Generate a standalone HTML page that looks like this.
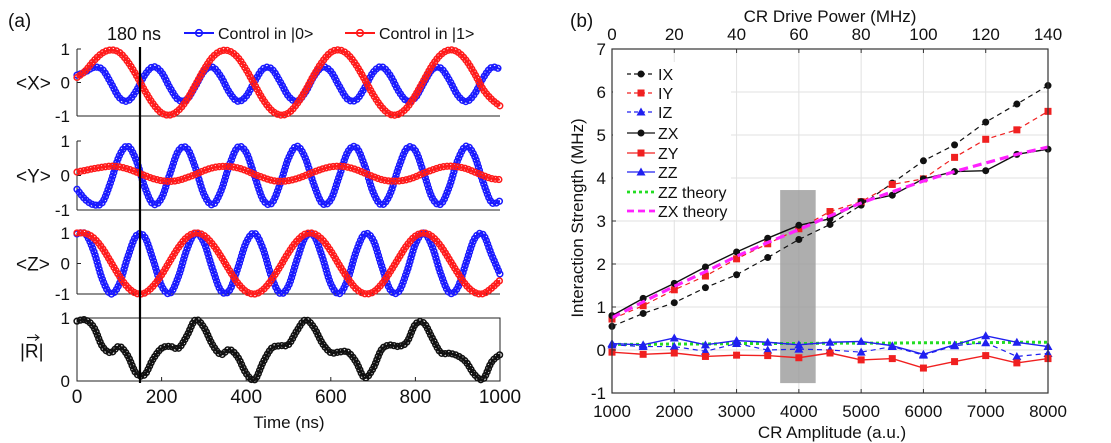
<!DOCTYPE html>
<html><head><meta charset="utf-8"><style>
html,body{margin:0;padding:0;background:#fff;}
svg{display:block;font-family:"Liberation Sans",Arial,sans-serif;}
</style></head><body>
<svg id="fig" width="1111" height="443" viewBox="0 0 1111 443" xmlns="http://www.w3.org/2000/svg"></svg>
<script>
// ---------- Panel (a) data ----------
const times = [0,20,40,60,80,100,120,140,160,180,200,220,240,260,280,300,320,340,360,380,400,420,440,460,480,500,520,540,560,580,600,620,640,660,680,700,720,740,760,780,800,820,840,860,880,900,920,940,960,980,1000];
const xBlue = [0.22,0.32,0.45,0.39,-0.01,-0.45,-0.55,-0.25,0.22,0.47,0.30,-0.16,-0.52,-0.50,-0.11,0.33,0.46,0.18,-0.29,-0.56,-0.41,0.03,0.41,0.41,0.03,-0.41,-0.56,-0.29,0.18,0.46,0.33,-0.11,-0.50,-0.52,-0.16,0.30,0.47,0.22,-0.25,-0.55,-0.45,-0.01,0.39,0.43,0.08,-0.38,-0.57,-0.34,0.13,0.45,0.40];
const xRed = [0.15,0.35,0.65,0.88,0.97,0.90,0.62,0.22,-0.24,-0.64,-0.91,-0.97,-0.83,-0.51,-0.07,0.38,0.75,0.94,0.94,0.75,0.38,-0.07,-0.51,-0.83,-0.97,-0.91,-0.64,-0.24,0.22,0.62,0.90,0.97,0.84,0.52,0.09,-0.36,-0.73,-0.95,-0.95,-0.75,-0.38,0.07,0.51,0.83,0.97,0.91,0.66,0.26,-0.20,-0.50,-0.70];
const yBlue = [-0.40,-0.70,-0.85,-0.78,-0.18,0.57,0.85,0.44,-0.33,-0.83,-0.65,0.06,0.72,0.79,0.22,-0.54,-0.85,-0.46,0.29,0.82,0.67,-0.02,-0.70,-0.81,-0.25,0.50,0.85,0.50,-0.26,-0.81,-0.70,-0.02,0.68,0.82,0.29,-0.48,-0.85,-0.54,0.22,0.79,0.72,0.06,-0.65,-0.83,-0.33,0.44,0.85,0.56,-0.19,-0.78,-0.74];
const yRed = [0.10,0.15,0.20,0.24,0.27,0.25,0.19,0.10,0.00,-0.09,-0.15,-0.17,-0.14,-0.06,0.03,0.14,0.22,0.26,0.26,0.22,0.14,0.03,-0.06,-0.14,-0.17,-0.15,-0.09,0.00,0.10,0.19,0.25,0.27,0.24,0.17,0.07,-0.03,-0.12,-0.16,-0.16,-0.12,-0.04,0.07,0.16,0.24,0.27,0.25,0.20,0.10,0.00,-0.09,-0.12];
const zBlue = [0.97,0.97,0.39,-0.52,-1.0,-0.67,0.21,0.91,0.87,0.12,-0.73,-0.98,-0.42,0.47,0.99,0.69,-0.16,-0.89,-0.89,-0.16,0.69,0.99,0.47,-0.44,-0.98,-0.73,0.12,0.87,0.91,0.21,-0.67,-0.99,-0.52,0.39,0.97,0.77,-0.07,-0.85,-0.93,-0.26,0.63,1.0,0.54,-0.34,-0.96,-0.79,0.03,0.82,0.95,0.29,-0.35];
const zRed = [1.0,0.99,0.83,0.50,0.05,-0.41,-0.78,-0.98,-0.97,-0.74,-0.37,0.09,0.53,0.86,1.0,0.92,0.64,0.24,-0.22,-0.64,-0.92,-1.0,-0.86,-0.53,-0.10,0.36,0.74,0.97,0.98,0.78,0.41,-0.05,-0.48,-0.83,-0.99,-0.94,-0.68,-0.28,0.17,0.60,0.90,1.0,0.88,0.57,0.14,-0.31,-0.71,-0.95,-0.99,-0.81,-0.55];
const rMag = [0.95,0.97,0.85,0.55,0.45,0.55,0.40,0.12,0.10,0.35,0.52,0.55,0.52,0.72,0.97,0.85,0.58,0.42,0.50,0.38,0.12,0.02,0.30,0.52,0.56,0.58,0.80,0.97,0.85,0.60,0.45,0.46,0.46,0.30,0.05,0.20,0.50,0.57,0.55,0.62,0.90,0.92,0.68,0.45,0.44,0.40,0.30,0.10,0.03,0.30,0.42];
const timeTicks = [0,200,400,600,800,1000];

// ---------- Panel (b) data ----------
const amps = [1000,1500,2000,2500,3000,3500,4000,4500,5000,5500,6000,6500,7000,7500,8000];
const IX = [0.55,0.85,1.10,1.45,1.75,2.15,2.57,2.92,3.37,3.88,4.40,4.77,5.30,5.72,6.15];
const IY = [0.72,1.03,1.40,1.72,2.12,2.47,2.82,3.22,3.45,3.85,3.98,4.48,4.90,5.12,5.55];
const IZ = [0.12,0.08,0.08,-0.03,0.15,0.00,0.02,0.00,-0.05,0.08,-0.12,0.10,0.17,-0.15,-0.08];
const ZX = [0.80,1.20,1.55,1.93,2.28,2.60,2.90,3.05,3.45,3.60,3.98,4.15,4.17,4.55,4.67];
const ZY = [-0.05,-0.10,-0.07,-0.15,-0.12,-0.13,-0.18,-0.07,-0.23,-0.20,-0.42,-0.27,-0.13,-0.30,-0.20];
const ZZ = [0.15,0.12,0.28,0.12,0.22,0.18,0.12,0.18,0.20,0.10,-0.10,0.12,0.33,0.18,0.08];
const ZZth = [0.13,0.13,0.14,0.14,0.15,0.15,0.15,0.16,0.16,0.16,0.17,0.17,0.17,0.18,0.18];
const ZXth = [0.75,1.12,1.48,1.82,2.18,2.50,2.80,3.12,3.42,3.68,3.93,4.15,4.35,4.55,4.72];
const ampTicks = [1000,2000,3000,4000,5000,6000,7000,8000];
const powerTicks = [0,20,40,60,80,100,120,140];
const strengthTicks = [-1,0,1,2,3,4,5,6,7];
const shadeRange = [3700,4270,-0.77,3.72];

const NS="http://www.w3.org/2000/svg";
const svg=document.getElementById('fig');
function mk(tag,attrs,parent){const e=document.createElementNS(NS,tag);for(const k in attrs)e.setAttribute(k,attrs[k]);(parent||svg).appendChild(e);return e;}
function txt(s,x,y,size,anchor,parent){const t=mk('text',{x:x,y:y,'font-size':size,'text-anchor':anchor||'start',fill:'#111'},parent);t.textContent=s;return t;}

// ---- left panels ----
const tx = t => 77 + (t/1000)*423;
const panels=[
 {name:'x-panel',label:'<X>',top:49,bot:116,min:-1,max:1,series:[[xBlue,'#1a1aff'],[xRed,'#ff1a1a']]},
 {name:'y-panel',label:'<Y>',top:141,bot:210,min:-1,max:1,series:[[yBlue,'#1a1aff'],[yRed,'#ff1a1a']]},
 {name:'z-panel',label:'<Z>',top:233,bot:294,min:-1,max:1,series:[[zBlue,'#1a1aff'],[zRed,'#ff1a1a']]},
 {name:'r-panel',label:'|R|',top:318,bot:381,min:0,max:1,series:[[rMag,'#111']]}
];
function smooth(pts){let d='M'+pts[0][0]+','+pts[0][1];for(let i=0;i<pts.length-1;i++){const p0=pts[i-1]||pts[i],p1=pts[i],p2=pts[i+1],p3=pts[i+2]||p2;d+=' C'+(p1[0]+(p2[0]-p0[0])/6)+','+(p1[1]+(p2[1]-p0[1])/6)+' '+(p2[0]-(p3[0]-p1[0])/6)+','+(p2[1]-(p3[1]-p1[1])/6)+' '+p2[0]+','+p2[1];}return d;}
panels.forEach(p=>{
  const g=mk('g',{});
  
  
  const ty=v=>p.bot-(v-p.min)/(p.max-p.min)*(p.bot-p.top);
  if(p.name==='r-panel'){mk('rect',{x:77,y:p.top,width:423,height:p.bot-p.top,fill:'none',stroke:'#222','stroke-width':1},g);}
  else{mk('line',{x1:77,y1:p.top,x2:77,y2:p.bot,stroke:'#222'},g);mk('line',{x1:77,y1:p.bot,x2:500,y2:p.bot,stroke:'#222'},g);}
  const ticks=p.min<0?[-1,0,1]:[0,1];
  ticks.forEach(v=>{mk('line',{x1:77,y1:ty(v),x2:81,y2:ty(v),stroke:'#222'},g);txt(String(v),70,ty(v)+6,17,'end',g);});
  p.series.forEach(([arr,col])=>{
    const pts=times.map((t,i)=>[tx(t),ty(arr[i])]);
    const s=mk('path',{d:smooth(pts),fill:'none',stroke:col,'stroke-width':2},g);
    
    
    // dense measurement markers along the measured trace
    const len=s.getTotalLength();
    for(let l=0;l<=len;l+=3.6){const q=s.getPointAtLength(l);mk('circle',{cx:q.x,cy:q.y,r:2.9,fill:'none',stroke:col,'stroke-width':1.5},g);}
  });
  if(p.name==='r-panel'){
    txt('|R|',20,ty(0.5)+8,19,'start',g);
    mk('line',{x1:27,y1:ty(0.5)-12,x2:38,y2:ty(0.5)-12,stroke:'#111','stroke-width':1.2},g);
    mk('path',{d:'M35,'+(ty(0.5)-15)+' L39,'+(ty(0.5)-12)+' L35,'+(ty(0.5)-9),fill:'none',stroke:'#111'},g);
  } else txt(p.label,16,(p.top+p.bot)/2+7,19,'start',g);
});
timeTicks.forEach(t=>{mk('line',{x1:tx(t),y1:381,x2:tx(t),y2:377,stroke:'#222'});txt(String(t),tx(t),403,19,'middle');});
txt('Time (ns)',289,428,17,'middle');
mk('line',{x1:140,y1:47,x2:140,y2:383,stroke:'#000','stroke-width':2.2});
txt('(a)',8,27,19);
txt('180 ns',107,40,18);
mk('line',{x1:184,y1:33,x2:214,y2:33,stroke:'#1a1aff','stroke-width':2});
mk('circle',{cx:199,cy:33,r:3.3,fill:'none',stroke:'#1a1aff','stroke-width':1.6});
txt('Control in |0>',218,39,16);
mk('line',{x1:345,y1:33,x2:375,y2:33,stroke:'#ff1a1a','stroke-width':2});
mk('circle',{cx:360,cy:33,r:3.3,fill:'none',stroke:'#ff1a1a','stroke-width':1.6});
txt('Control in |1>',379,39,16);

// ---- right panel ----
const L=612,R=1048,T=49,B=393;
const ax=a=>L+(a-1000)/7000*(R-L);
const ay=v=>B-(v+1)/8*(B-T);
const gb=mk('g',{});


ampTicks.forEach(a=>mk('line',{x1:ax(a),y1:T,x2:ax(a),y2:B,stroke:'#e2e2e2'},gb));
strengthTicks.forEach(v=>mk('line',{x1:L,y1:ay(v),x2:R,y2:ay(v),stroke:'#e2e2e2'},gb));
mk('rect',{x:ax(shadeRange[0]),y:ay(shadeRange[3]),width:ax(shadeRange[1])-ax(shadeRange[0]),height:ay(shadeRange[2])-ay(shadeRange[3]),fill:'#9a9a9a',opacity:0.8},gb);
function series(arr,col,dash,marker,w,name){
  const g=mk('g',{},gb);
  
  
  const pts=amps.map((a,i)=>[ax(a),ay(arr[i])]);
  mk('polyline',{points:pts.map(p=>p.join(',')).join(' '),fill:'none',stroke:col,'stroke-width':w,'stroke-dasharray':dash||'none'},g);
  pts.forEach(p=>drawMarker(g,p[0],p[1],marker,col));
}
function drawMarker(g,x,y,m,col){
  if(m==='o')mk('circle',{cx:x,cy:y,r:3.5,fill:col},g);
  else if(m==='s')mk('rect',{x:x-3.5,y:y-3.5,width:7,height:7,fill:col},g);
  else if(m==='^')mk('path',{d:`M${x},${y-4.5} L${x+4.5},${y+3.5} L${x-4.5},${y+3.5}Z`,fill:col},g);
}
series(ZZth,'#22dd22','3,3','',3,'zz-theory-line');
series(IX,'#111','5,4','o',1.2,'ix-series');
series(IY,'#f02020','5,4','s',1.2,'iy-series');
series(IZ,'#2020f0','5,4','^',1.2,'iz-series');
series(ZX,'#111','','o',1.4,'zx-series');
series(ZY,'#f02020','','s',1.4,'zy-series');
series(ZZ,'#2020f0','','^',1.4,'zz-series');
series(ZXth,'#ff22ff','9,5','',3.2,'zx-theory-line');
mk('rect',{x:L,y:T,width:R-L,height:B-T,fill:'none',stroke:'#333','stroke-width':1.2},gb);
ampTicks.forEach(a=>{mk('line',{x1:ax(a),y1:B,x2:ax(a),y2:B-4,stroke:'#333'},gb);txt(String(a),ax(a),417,17,'middle',gb);});
powerTicks.forEach(p=>{const x=ax(1000+p*50);mk('line',{x1:x,y1:T,x2:x,y2:T+4,stroke:'#333'},gb);txt(String(p),x,40,17,'middle',gb);});
strengthTicks.forEach(v=>{mk('line',{x1:L,y1:ay(v),x2:L+4,y2:ay(v),stroke:'#333'},gb);txt(String(v),606,ay(v)+6,17,'end',gb);});
txt('CR Amplitude (a.u.)',832,438,17,'middle');
txt('CR Drive Power (MHz)',830,22,17,'middle');
const yl=txt('Interaction Strength (MHz)',0,0,17,'middle');
yl.setAttribute('transform','translate(583,218) rotate(-90)');
txt('(b)',570,27,19);
// legend
const lg=mk('g',{});


mk('rect',{x:L+1,y:62,width:118,height:158,fill:'#fff'},lg);
const legendItems=[['IX','#111','4,3','o'],['IY','#f02020','4,3','s'],['IZ','#2020f0','4,3','^'],['ZX','#111','','o'],['ZY','#f02020','','s'],['ZZ','#2020f0','','^'],['ZZ theory','#22dd22','3,3',''],['ZX theory','#ff22ff','7,4','']];
const legendY=[74,93,112,133,153,172,192,211];
legendItems.forEach((it,i)=>{
  const y=legendY[i];
  const e=mk('g',{},lg);
  
  
  mk('line',{x1:627,y1:y,x2:655,y2:y,stroke:it[1],'stroke-width':it[3]?1.3:2.8,'stroke-dasharray':it[2]||'none'},e);
  if(it[3])drawMarker(e,641,y,it[3],it[1]);
  txt(it[0],658,y+6,16,'start',e);
});
</script>
</body></html>
